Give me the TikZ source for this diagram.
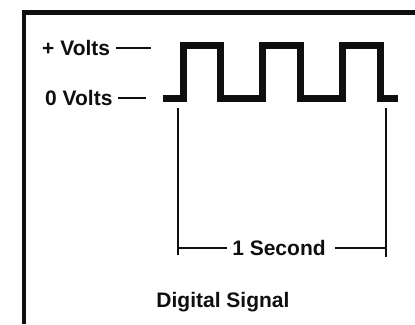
\documentclass[tikz,border=0pt]{standalone}
\usepackage{fontspec}
\setmainfont{Liberation Sans}
\usepackage{tikz}
\usetikzlibrary{positioning}
\definecolor{ink}{RGB}{15,15,15}
\def\WyHi{45}
\def\WyLo{98}
\tikzset{
  lvl/.style={anchor=west, font=\fontsize{21}{25}\selectfont\bfseries, text=ink, inner sep=0pt},
  lbl/.style={font=\fontsize{21}{25}\selectfont\bfseries, text=ink, inner sep=0pt},
  wave/.style={draw=ink, line width=7pt, line join=miter},
  tick/.style={draw=ink, line width=2.2pt},
  frame/.style={draw=ink, line width=4.5pt},
}
\begin{document}
\begin{tikzpicture}[x=1pt,y=-1pt]
  \useasboundingbox (0,0) rectangle (415,324);

  \draw[frame] (24,324) -- (24,12.5) -- (415,12.5);

  \node[lvl] (hi) at (42,\WyHi+3) {+ Volts \rule[0.3em]{35pt}{2.2pt}};
  \node[lvl] (lo) at (45,\WyLo) {0 Volts \rule[0.3em]{28pt}{2.2pt}};

  \draw[wave] (163,\WyLo) -- (183,\WyLo) -- (183,\WyHi) -- (220,\WyHi) -- (220,\WyLo)
    -- (262,\WyLo) -- (262,\WyHi) -- (300,\WyHi) -- (300,\WyLo)
    -- (342,\WyLo) -- (342,\WyHi) -- (380,\WyHi) -- (380,\WyLo) -- (398,\WyLo);

  \coordinate (tl) at (178,108);
  \coordinate (bl) at (178,255);
  \coordinate (tr) at (386,108);
  \coordinate (br) at (386,257);
  \coordinate (dl) at (178,248);
  \coordinate (dr) at (386,248);
  \node[lbl] (sec) at (279,248) {1 Second};
  \draw[tick] (tl) -- (bl);
  \draw[tick] (tr) -- (br);
  \draw[tick] (dl) -- ([xshift=-5pt]sec.west);
  \draw[tick] ([xshift=9pt]sec.east) -- (dr);

  \node[lbl] (title) at (223,302) {Digital Signal};
\end{tikzpicture}
\end{document}
